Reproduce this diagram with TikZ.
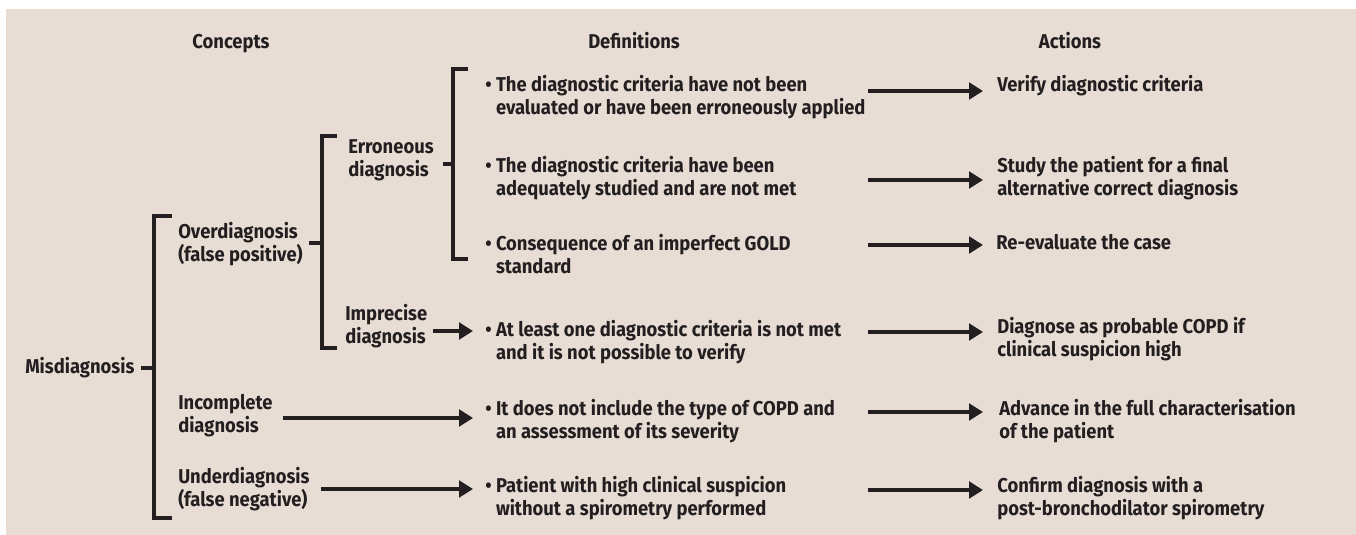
\documentclass[tikz,border=0pt]{standalone}
\usepackage{fontspec}
\setmainfont{Fira Sans}[FakeStretch=0.92]
\usetikzlibrary{arrows.meta}
\definecolor{bg}{RGB}{232,221,212}
\definecolor{ink}{RGB}{35,31,32}
\newcommand{\bul}{\textbullet\ }
\newcommand{\ind}{\phantom{\textbullet\ }}
\begin{document}
\begin{tikzpicture}[x=0.75pt,y=-0.75pt,
  txt/.style={anchor=base west, inner sep=0pt, align=left, text=ink,
    font=\fontsize{15pt}{16.7pt}\selectfont\bfseries},
  head/.style={anchor=base, inner sep=0pt, text=ink,
    font=\fontsize{15pt}{16.7pt}\selectfont\bfseries},
  brk/.style={draw=ink, line width=2.4pt},
  arr/.style={draw=ink, line width=2.4pt, -{Triangle[length=10.5pt,width=12.5pt]}}]
\useasboundingbox (0,0) rectangle (1356,535);
\fill[bg] (6,9) rectangle (1356,535);

% headers
\node[head] (hc) at (231,49) {Concepts};
\node[head] (hd) at (634,49) {Definitions};
\node[head] (ha) at (1070,49) {Actions};

% concepts (anchor = baseline of last line)
\node[txt] (mis) at (25,373) {Misdiagnosis};
\node[txt] (over) at (178,261) {Overdiagnosis\\(false positive)};
\node[txt] (err) at (348,176) {Erroneous\\diagnosis};
\node[txt] (imp) at (345,343) {Imprecise\\diagnosis};
\node[txt] (inc) at (178,432) {Incomplete\\diagnosis};
\node[txt] (und) at (178,506) {Underdiagnosis\\(false negative)};

% definitions
\node[txt] (d1) at (485,114) {\bul The diagnostic criteria have not been\\\ind evaluated or have been erroneously applied};
\node[txt] (d2) at (485,195) {\bul The diagnostic criteria have been\\\ind adequately studied and are not met};
\node[txt] (d3) at (485,273) {\bul Consequence of an imperfect GOLD\\\ind standard};
\node[txt] (d4) at (485,359) {\bul At least one diagnostic criteria is not met\\\ind and it is not possible to verify};
\node[txt] (d5) at (485,438) {\bul It does not include the type of COPD and\\\ind an assessment of its severity};
\node[txt] (d6) at (485,515) {\bul Patient with high clinical suspicion\\\ind without a spirometry performed};

% actions
\node[txt] (a1) at (997,91) {Verify diagnostic criteria};
\node[txt] (a2) at (997,195) {Study the patient for a final\\alternative correct diagnosis};
\node[txt] (a3) at (996,249) {Re-evaluate the case};
\node[txt] (a4) at (997,356) {Diagnose as probable COPD if\\clinical suspicion high};
\node[txt] (a5) at (999,438) {Advance in the full characterisation\\of the patient};
\node[txt] (a6) at (997,515) {Confirm diagnosis with a\\post-bronchodilator spirometry};

% brackets
\coordinate (m0) at (141,368); \coordinate (m1) at (154,368);
\draw[brk] (m0) -- (m1);
\draw[brk] (172,216) -- (154,216) -- (154,518) -- (172,518);
\coordinate (o0) at (309,243); \coordinate (o1) at (322,243);
\draw[brk] (o0) -- (o1);
\draw[brk] (337,136) -- (322,136) -- (322,348) -- (337,348);
\coordinate (e0) at (443,164); \coordinate (e1) at (453,164);
\draw[brk] (e0) -- (e1);
\draw[brk] (468,69) -- (453,69) -- (453,259) -- (468,259);

% concept -> definition arrows
\coordinate (ci) at (433,331); \coordinate (ti) at (473,331);
\draw[arr] (ci) -- (ti);
\coordinate (cn) at (283,418); \coordinate (tn) at (473,418);
\draw[arr] (cn) -- (tn);
\coordinate (cu) at (321,489); \coordinate (tu) at (473,489);
\draw[arr] (cu) -- (tu);

% definition -> action arrows
\foreach \i/\y in {1/91,2/180,3/245,4/332,5/412,6/490}{
  \coordinate (s\i) at (868,\y);
  \coordinate (t\i) at (983,\y);
  \draw[arr] (s\i) -- (t\i);
}
\end{tikzpicture}
\end{document}
